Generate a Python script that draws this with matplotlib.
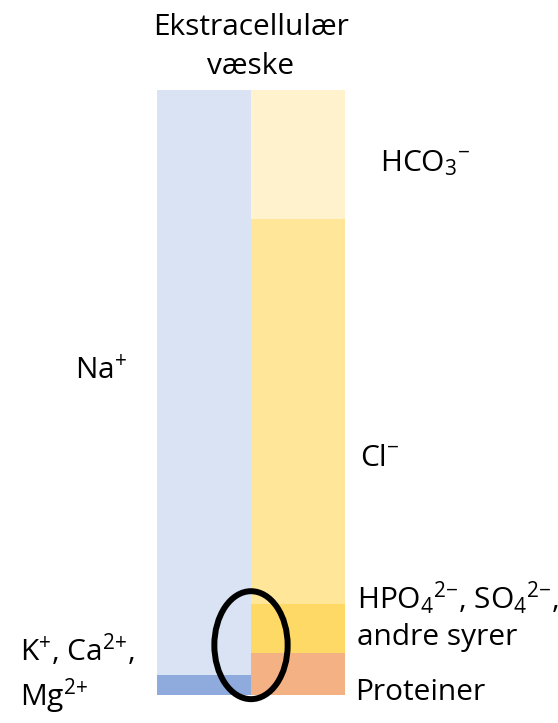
import numpy as np
import matplotlib
matplotlib.use("Agg")
import matplotlib.pyplot as plt
from matplotlib.patches import Ellipse

# mEq/L
cation_labels = ["K$^{{+}}$, Ca$^{2{+}}$,\nMg$^{2{+}}$", "Na$^{{+}}$"]
cation_values = [5, 148]
cation_colors = ["#8FAADC", "#DAE3F3"]

anion_labels = ["Proteiner", "HPO$_4$$^{2{-}}$, SO$_4$$^{2{-}}$,\nandre syrer", "Cl$^{{-}}$", "HCO$_3$$^{{-}}$"]
anion_values = [10.5, 12.5, 97.5, 32.5]
anion_colors = ["#F4B183", "#FFD966", "#FFE699", "#FFF2CC"]

title = "Ekstracellulær\nvæske"

plt.rcParams["font.family"] = ["Open Sans", "DejaVu Sans"]
plt.rcParams["mathtext.fontset"] = "custom"
plt.rcParams["mathtext.rm"] = "Open Sans"
plt.rcParams["mathtext.it"] = "Open Sans"
plt.rcParams["mathtext.default"] = "rm"

W, H = 558, 723
fig = plt.figure(figsize=(W / 100, H / 100), dpi=100)

def fx(px):
    return px / W

def fy(py):
    return 1 - py / H

ax = fig.add_axes([fx(157), fy(695), fx(345) - fx(157), fy(90) - fy(695)])

bottom = 0
for v, c in zip(cation_values, cation_colors):
    ax.bar(0, v, width=1, bottom=bottom, align="edge", color=c, linewidth=0)
    bottom += v
bottom = 0
for v, c in zip(anion_values, anion_colors):
    ax.bar(1, v, width=1, bottom=bottom, align="edge", color=c, linewidth=0)
    bottom += v

ax.set_xlim(0, 2)
ax.set_ylim(0, sum(cation_values))
ax.axis("off")

# circle around the small fractions
ell = Ellipse((1, 12.6), width=0.78, height=27.3, fill=False,
              edgecolor="black", linewidth=4.3, clip_on=False)
ax.add_patch(ell)

fs = 21.5
fig.text(fx(251), fy(47), title, ha="center", va="center", fontsize=fs,
         linespacing=1.45)
fig.text(fx(75), fy(371), cation_labels[1], ha="left", va="center", fontsize=fs)
fig.text(fx(20), fy(674), cation_labels[0], ha="left", va="center", fontsize=fs,
         linespacing=1.3)
fig.text(fx(380), fy(163), anion_labels[3], ha="left", va="center", fontsize=fs)
fig.text(fx(360), fy(459), anion_labels[2], ha="left", va="center", fontsize=fs)
fig.text(fx(357), fy(616), anion_labels[1], ha="left", va="center", fontsize=fs,
         linespacing=1.3)
fig.text(fx(355), fy(693), anion_labels[0], ha="left", va="center", fontsize=fs)

fig.savefig("out.png", dpi=100)
